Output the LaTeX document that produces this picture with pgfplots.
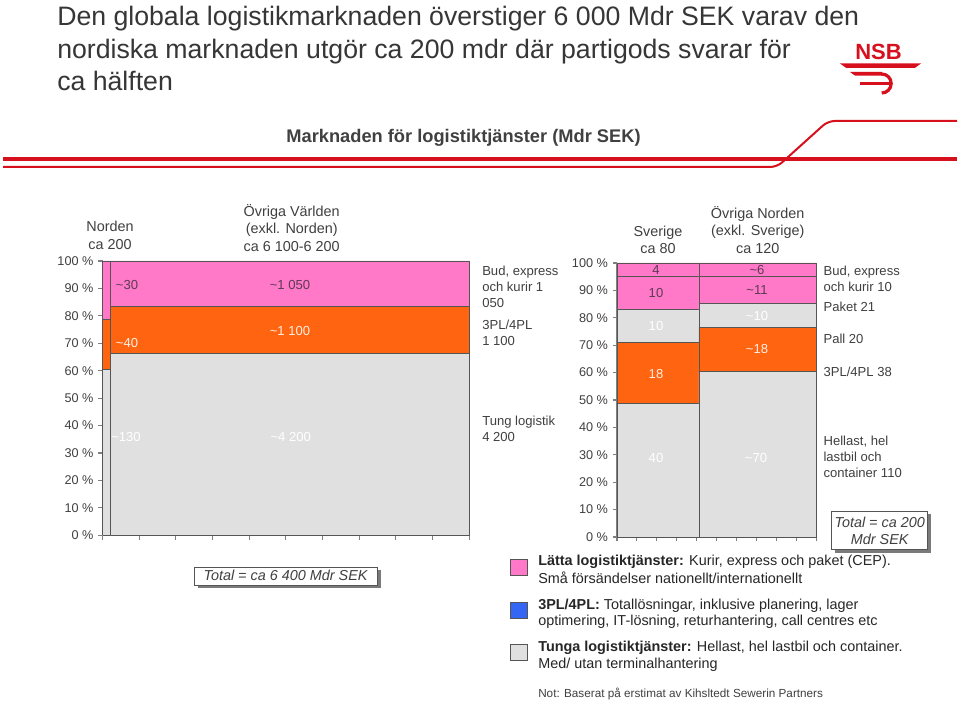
\documentclass[border=0pt]{standalone}
\usepackage{pgfplots}
\pgfplotsset{compat=1.18}
\usepackage{fontspec}
\setmainfont{Liberation Sans}
\definecolor{pinkc}{HTML}{FF79C8}
\definecolor{orangec}{HTML}{FF6410}
\definecolor{grayc}{HTML}{E0E0E0}
\definecolor{edgec}{HTML}{555555}
\definecolor{axc}{HTML}{808080}
\definecolor{txt}{HTML}{404040}
\definecolor{titc}{HTML}{363636}
\definecolor{bluec}{HTML}{3366F5}
\definecolor{nsbred}{HTML}{D7101E}
\definecolor{pinktxt}{HTML}{5C3A54}
\definecolor{orgtxt}{HTML}{FFEFE5}
\definecolor{shadowc}{HTML}{7A7A7A}
\newcommand{\fhead}{\fontsize{10.8}{13}\selectfont}
\newcommand{\flab}{\fontsize{9.8}{12}\selectfont}
\newcommand{\fleg}{\fontsize{10.8}{13}\selectfont}
\newcommand{\seg}[5]{\addplot[fill=#1,draw=edgec,line width=0.7pt,line join=miter] coordinates {(#2,#4) (#3,#4) (#3,#5) (#2,#5) (#2,#4)};}
\pgfplotsset{
  mekko/.style={
    scale only axis, anchor=south west, clip=false,
    xmin=0,xmax=100,ymin=0,ymax=100,
    axis x line=bottom, axis y line=left,
    axis line style={-, draw=axc, line width=1pt},
    xtick={0,10,...,100}, xticklabels={},
    ytick={0,10,...,100},
    yticklabels={0 \%,10 \%,20 \%,30 \%,40 \%,50 \%,60 \%,70 \%,80 \%,90 \%,100 \%},
    tick align=outside, major tick length=3.3pt,
    tick style={draw=axc, line width=0.8pt},
    yticklabel style={font=\fontsize{9.5}{11}\selectfont, text=txt},
  },
}
\begin{document}
\begin{tikzpicture}
\fill[white] (0,0) rectangle (720pt,527.25pt);
\useasboundingbox (0,0) rectangle (720pt,527.25pt);

% ---------- left chart: global market ----------
\begin{axis}[mekko, at={(76.875pt,125.8pt)}, width=274.9pt, height=205.7pt]
\seg{grayc}{0}{2.2}{0}{60.6}
\seg{orangec}{0}{2.2}{60.6}{78.5}
\seg{pinkc}{0}{2.2}{78.5}{100}
\seg{grayc}{2.2}{100}{0}{66.3}
\seg{orangec}{2.2}{100}{66.3}{83.5}
\seg{pinkc}{2.2}{100}{83.5}{100}
\end{axis}

% ---------- right chart: Nordic market ----------
\begin{axis}[mekko, at={(462.75pt,124.5pt)}, width=149.6pt, height=205.5pt]
\seg{grayc}{0}{41.1}{0}{48.9}
\seg{orangec}{0}{41.1}{48.9}{71.1}
\seg{grayc}{0}{41.1}{71.1}{83.2}
\seg{pinkc}{0}{41.1}{83.2}{95.2}
\seg{pinkc}{0}{41.1}{95.2}{100}
\seg{grayc}{41.1}{100}{0}{60.3}
\seg{orangec}{41.1}{100}{60.3}{76.5}
\seg{grayc}{41.1}{100}{76.5}{85.1}
\seg{pinkc}{41.1}{100}{85.1}{95.2}
\seg{pinkc}{41.1}{100}{95.2}{100}
\end{axis}

\begin{scope}[x=0.75pt,y=-0.75pt,shift={(0pt,527.25pt)}]
% title
\begin{scope}[every node/.style={anchor=base west,inner sep=0pt,text=titc,font=\fontsize{20}{24}\selectfont}]
\node at (57,25.7) {Den globala logistikmarknaden överstiger 6 000 Mdr SEK varav den};
\node at (57,58.3) {nordiska marknaden utgör ca 200 mdr där partigods svarar för};
\node at (57,90.7) {ca hälften};
\end{scope}
% NSB logo
\node[anchor=base,inner sep=0pt,text=nsbred,font=\bfseries\fontsize{16.5}{18}\selectfont] at (878.5,59.5) {NSB};
\fill[nsbred] (840,63.5) -- (921,63.5) -- (915,67.8) -- (846,67.8) -- cycle;
\fill[nsbred] (850,72) -- (882,72) -- (882,75.6) -- (855,75.6) -- cycle;
\draw[nsbred,line width=2.4pt] (881.7,74) arc[start angle=-90,end angle=90,radius=9.5];
\draw[nsbred,line width=2.4pt] (860,83.5) -- (890,83.5);
% red lines
\draw[nsbred,line width=2.6pt] (3,159) -- (957,159);
\draw[nsbred,line width=1.5pt,rounded corners=5pt] (3,167) -- (777,167) -- (828,121) -- (957,121);
% subtitle
\node[anchor=base,inner sep=0pt,text=txt,font=\bfseries\fontsize{13.7}{16}\selectfont] at (463.5,142.3) {Marknaden för logistiktjänster (Mdr SEK)};

% headers
\begin{scope}[every node/.style={anchor=base,inner sep=0pt,text=txt,font=\fhead}]
\node at (110,231.7) {Norden};
\node at (110,249.3) {ca 200};
\node at (291.7,216.7) {Övriga Världen};
\node at (291.7,234) {(exkl. Norden)};
\node at (291.7,251.7) {ca 6 100-6 200};
\node at (658,236.7) {Sverige};
\node at (658,254) {ca 80};
\node at (757.7,218.3) {Övriga Norden};
\node at (757.7,235.7) {(exkl. Sverige)};
\node at (757.7,254) {ca 120};
\end{scope}

% bar value labels
\begin{scope}[every node/.style={anchor=base,inner sep=0pt,font=\flab}]
\node[text=pinktxt] at (127,290) {\textasciitilde 30};
\node[text=pinktxt] at (290,290) {\textasciitilde 1 050};
\node[text=orgtxt] at (290,335.7) {\textasciitilde 1 100};
\node[text=orgtxt] at (127,347.7) {\textasciitilde 40};
\node[text=white] at (126,442) {\textasciitilde 130};
\node[text=white] at (290.7,442) {\textasciitilde 4 200};
\node[text=pinktxt] at (656,275) {4};
\node[text=pinktxt] at (656,297.3) {10};
\node[text=white] at (656,330.7) {10};
\node[text=orgtxt] at (656,378.3) {18};
\node[text=white] at (656,462.3) {40};
\node[text=pinktxt] at (757,275) {\textasciitilde 6};
\node[text=pinktxt] at (757,294.3) {\textasciitilde 11};
\node[text=white] at (757,320.7) {\textasciitilde 10};
\node[text=orgtxt] at (757,354) {\textasciitilde 18};
\node[text=white] at (756,462.3) {\textasciitilde 70};
\end{scope}

% side labels
\begin{scope}[every node/.style={anchor=base west,inner sep=0pt,text=txt,font=\flab}]
\node at (482,275.5) {Bud, express};
\node at (482,291.5) {och kurir 1};
\node at (482,307.5) {050};
\node at (482,330) {3PL/4PL};
\node at (482,346) {1 100};
\node at (482,426) {Tung logistik};
\node at (482,442) {4 200};
\node at (823.3,276) {Bud, express};
\node at (823.3,291.7) {och kurir 10};
\node at (823.3,311.7) {Paket 21};
\node at (823.3,343.3) {Pall 20};
\node at (823.3,376.7) {3PL/4PL 38};
\node at (823.3,445.7) {Hellast, hel};
\node at (823.3,461.7) {lastbil och};
\node at (823.3,477.3) {container 110};
\end{scope}

% total boxes
\fill[shadowc] (197.5,570.5) rectangle (380.5,588.5);
\draw[draw=edgec,fill=white,line width=0.7pt] (194,567) rectangle (377,585);
\node[anchor=base,inner sep=0pt,text=txt,font=\itshape\fontsize{10.8}{13}\selectfont] at (285.5,580.5) {Total = ca 6 400 Mdr SEK};
\fill[shadowc] (835,514.5) rectangle (931,553);
\draw[draw=edgec,fill=white,line width=0.7pt] (831.7,511) rectangle (927.7,549.5);
\node[anchor=base,inner sep=0pt,text=txt,font=\itshape\fontsize{10.8}{13}\selectfont] at (879.7,527.3) {Total = ca 200};
\node[anchor=base,inner sep=0pt,text=txt,font=\itshape\fontsize{10.8}{13}\selectfont] at (879.7,545) {Mdr SEK};

% legend
\draw[draw=edgec,fill=pinkc,line width=0.7pt] (510,559) rectangle (527,575);
\draw[draw=edgec,fill=bluec,line width=0.7pt] (510,602) rectangle (527,618);
\draw[draw=edgec,fill=grayc,line width=0.7pt] (510,644) rectangle (527,660);
\begin{scope}[every node/.style={anchor=base west,inner sep=0pt,text=black!85,font=\fleg}]
\node at (538,565.7) {\textbf{Lätta logistiktjänster:} Kurir, express och paket (CEP).};
\node at (538,583.3) {Små försändelser nationellt/internationellt};
\node at (538,609.3) {\textbf{3PL/4PL:} Totallösningar, inklusive planering, lager};
\node at (538,625.5) {optimering, IT-lösning, returhantering, call centres etc};
\node at (538,651.7) {\textbf{Tunga logistiktjänster:} Hellast, hel lastbil och container.};
\node at (538,669) {Med/ utan terminalhantering};
\end{scope}
\node[anchor=base west,inner sep=0pt,text=txt,font=\fontsize{8.8}{10}\selectfont] at (538,698) {Not: Baserat på erstimat av Kihsltedt Sewerin Partners};
\end{scope}
\end{tikzpicture}
\end{document}
